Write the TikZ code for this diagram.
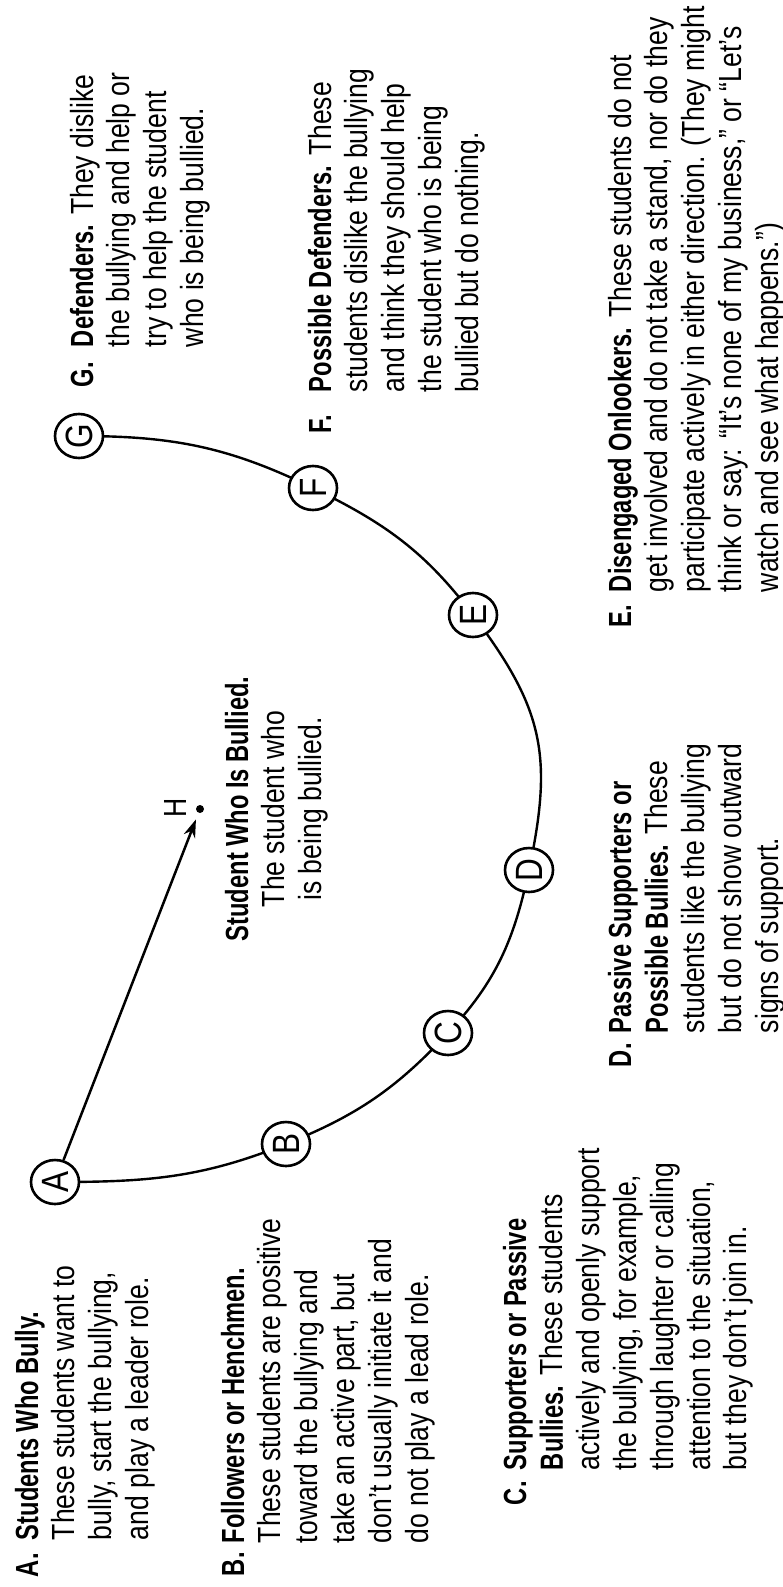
\documentclass[tikz,border=0pt]{standalone}
\usepackage{fontspec}
\setmainfont{Liberation Sans}[FakeStretch=0.83]
\newfontfamily\bdfam{Liberation Sans}[FakeStretch=0.74]
\newcommand{\hd}[1]{{\bdfam\bfseries #1}}
\newcommand{\fstrut}{\rule{0pt}{25pt}}
\usetikzlibrary{shapes.geometric,arrows.meta}
\begin{document}
\begin{tikzpicture}[x=1pt,y=1pt,
  txt/.style={rotate=90, anchor=north west, inner sep=0pt, outer sep=0pt, align=left, font=\fontsize{32}{36.8}\selectfont},
  lbl/.style={rotate=90, anchor=north west, inner sep=0pt, outer sep=0pt, font=\fontsize{32}{36.8}\selectfont\bdfam\bfseries},
  role/.style={ellipse, draw, line width=2.6pt, fill=white, minimum width=44pt, minimum height=48pt, inner sep=0pt, rotate=90, font=\fontsize{38}{40}\selectfont},
  arcline/.style={line width=2.4pt},
]
\fill[white] (0,0) rectangle (783,-1587);
\useasboundingbox (0,0) rectangle (783,-1587);

% positions on the arc
\coordinate (pA) at (55,-1182);
\coordinate (pB) at (286,-1144);
\coordinate (pC) at (448,-1033);
\coordinate (pD) at (529,-870);
\coordinate (pE) at (473,-615);
\coordinate (pF) at (313,-488);
\coordinate (pG) at (79,-436);

% the arc
\draw[arcline] (pA) to[out=0,in=202] (pB) to[out=22,in=227] (pC) to[out=47,in=258] (pD)
  to[out=78,in=307,looseness=1.15] (pE) to[out=127,in=334] (pF) to[out=154,in=0] (pG);

% role circles
\node[role] (A) at (pA) {A};
\node[role] (B) at (pB) {B};
\node[role] (C) at (pC) {C};
\node[role] (D) at (pD) {D};
\node[role] (E) at (pE) {E};
\node[role] (F) at (pF) {F};
\node[role] (G) at (pG) {G};

% bullied student
\node[circle, fill=black, inner sep=0pt, minimum size=8pt] (H) at (200,-809) {};
\node[rotate=90, inner sep=0pt, font=\fontsize{32}{36.8}\selectfont] (Hl) at (175,-808) {H};
\draw[line width=2.5pt, -{Stealth[length=18pt,width=12pt]}, shorten >=7pt] (A) -- (H);

% texts
\node[lbl] (la) at (13,-1577) {\fstrut A.};
\node[txt] (ta) at (13,-1540) {\fstrut\hd{Students Who Bully.}\\These students want to\\bully, start the bullying,\\and play a leader role.};

\node[lbl] (lb) at (219,-1576) {\fstrut B.};
\node[txt] (tb) at (219,-1543) {\fstrut\hd{Followers or Henchmen.}\\These students are positive\\toward the bullying and\\take an active part, but\\don’t usually initiate it and\\do not play a lead role.};

\node[lbl] (lc) at (501,-1505) {\fstrut C.};
\node[txt] (tc) at (501,-1470) {\fstrut\hd{Supporters or Passive}\\\hd{Bullies.} These students\\actively and openly support\\the bullying, for example,\\through laughter or calling\\attention to the situation,\\but they don’t join in.};

\node[lbl] (ld) at (606,-1067) {\fstrut D.};
\node[txt] (td) at (606,-1033) {\fstrut\hd{Passive Supporters or}\\\hd{Possible Bullies.} These\\students like the bullying\\but do not show outward\\signs of support.};

\node[lbl] (le) at (606,-627) {\fstrut E.};
\node[txt] (te) at (606,-592) {\fstrut\hd{Disengaged Onlookers.} These students do not\\get involved and do not take a stand, nor do they\\participate actively in either direction. (They might\\think or say: “It’s none of my business,” or “Let’s\\watch and see what happens.”)};

\node[lbl] (lf) at (306,-433) {\fstrut F.};
\node[txt] (tf) at (306,-392) {\fstrut\hd{Possible Defenders.} These\\students dislike the bullying\\and think they should help\\the student who is being\\bullied but do nothing.};

\node[lbl] (lg) at (68,-387) {\fstrut G.};
\node[txt] (tg) at (68,-347) {\fstrut\hd{Defenders.} They dislike\\the bullying and help or\\try to help the student\\who is being bullied.};

\node[txt, anchor=north, align=center] (th) at (223,-809) {\fstrut\hd{Student Who Is Bullied.}\\The student who\\is being bullied.};
\end{tikzpicture}
\end{document}
